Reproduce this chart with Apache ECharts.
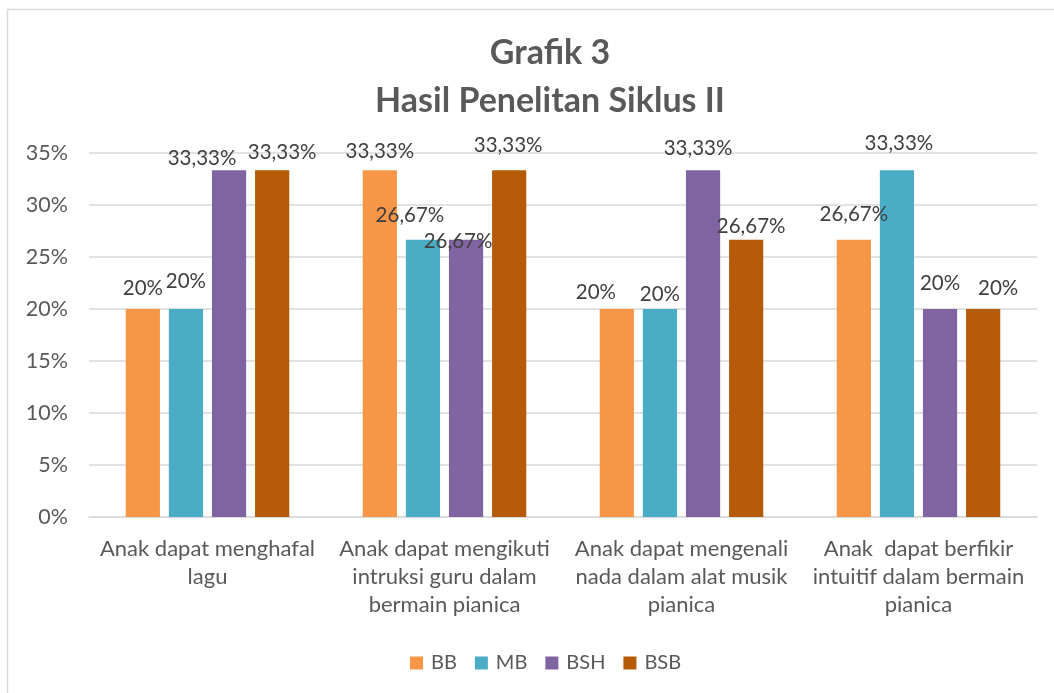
<!DOCTYPE html>
<html>
<head>
<meta charset="utf-8">
<script src="https://cdn.jsdelivr.net/npm/echarts@6/dist/echarts.min.js"></script>
<style>
html,body{margin:0;padding:0;background:#fff;}
#chart{width:1054px;height:693px;}
</style>
</head>
<body>
<div id="chart"></div>
<script>
// ---- data ----
var titleLines = ['Grafik 3', 'Hasil Penelitan Siklus II'];
var categories = [
  'Anak dapat menghafal\nlagu',
  'Anak dapat mengikuti\nintruksi guru dalam\nbermain pianica',
  'Anak dapat mengenali\nnada dalam alat musik\npianica',
  'Anak  dapat berfikir\nintuitif dalam bermain\npianica'
];
var seriesNames = ['BB', 'MB', 'BSH', 'BSB'];
var valuesBB  = [20, 33.33, 20, 26.67];
var valuesMB  = [20, 26.67, 20, 33.33];
var valuesBSH = [33.33, 26.67, 33.33, 20];
var valuesBSB = [33.33, 33.33, 26.67, 20];
var yTicks = [0, 5, 10, 15, 20, 25, 30, 35];

// ---- styling ----
var colors = ['#F79646', '#4BACC6', '#8064A2', '#B55A07'];
var FONT = 'Lato';
// label nudges (Excel-style overlap avoidance), per series then per category
var labelNudge = [
  [[0,-5],[0,-3],[-21,-1],[0,-10]],
  [[0,-12],[-13,-9],[0,1],[2,-11]],
  [[-27,4],[-8,17],[-5,-6],[0,-10]],
  [[10,-2],[-1,-9],[5,2],[15,-5]]
];
function fmt(v){
  return (Math.round(v) === v ? String(v) : v.toFixed(2).replace('.', ',')) + '%';
}
var allValues = [valuesBB, valuesMB, valuesBSH, valuesBSB];
var series = allValues.map(function(vals, si){
  return {
    name: seriesNames[si],
    type: 'bar',
    barGap: '26%',
    barCategoryGap: '31%',
    itemStyle: {color: colors[si]},
    data: vals.map(function(v, ci){
      return {value: v, label: {offset: labelNudge[si][ci]}};
    }),
    label: {
      show: true,
      position: 'top',
      distance: 5,
      color: '#404040',
      fontFamily: FONT,
      fontSize: 20.5,
      formatter: function(p){ return fmt(p.value); }
    }
  };
});

var chart = echarts.init(document.getElementById('chart'));
chart.setOption({
  animation: false,
  backgroundColor: '#ffffff',
  graphic: [{
    type: 'rect',
    shape: {x: 7.5, y: 9.5, width: 1100, height: 800},
    style: {fill: 'none', stroke: '#d9d9d9', lineWidth: 1.5},
    silent: true, z: -1
  }],
  title: {
    text: titleLines.join('\n'),
    left: 545,
    textAlign: 'center',
    top: 24,
    textStyle: {
      color: '#595959',
      fontFamily: FONT,
      fontWeight: 'bold',
      fontSize: 34,
      lineHeight: 48
    }
  },
  legend: {
    data: seriesNames,
    left: 405,
    top: 648,
    itemWidth: 13,
    itemHeight: 13,
    itemGap: 18,
    icon: 'rect',
    textStyle: {color: '#595959', fontFamily: FONT, fontSize: 20, padding: [0,0,0,3]}
  },
  grid: {left: 89, right: 17, top: 153, bottom: 176, containLabel: false},
  xAxis: {
    type: 'category',
    data: categories,
    axisLine: {lineStyle: {color: '#d9d9d9', width: 1.5}},
    axisTick: {show: false},
    axisLabel: {
      interval: 0,
      color: '#595959',
      fontFamily: FONT,
      fontSize: 22,
      lineHeight: 28,
      margin: 18
    }
  },
  yAxis: {
    type: 'value',
    min: yTicks[0],
    max: yTicks[yTicks.length - 1],
    interval: yTicks[1] - yTicks[0],
    axisLine: {show: false},
    axisTick: {show: false},
    splitLine: {lineStyle: {color: '#d9d9d9', width: 1.5}},
    axisLabel: {
      color: '#595959',
      fontFamily: FONT,
      fontSize: 21.5,
      margin: 21,
      formatter: function(v){ return v + '%'; }
    }
  },
  series: series
});
</script>
</body>
</html>
